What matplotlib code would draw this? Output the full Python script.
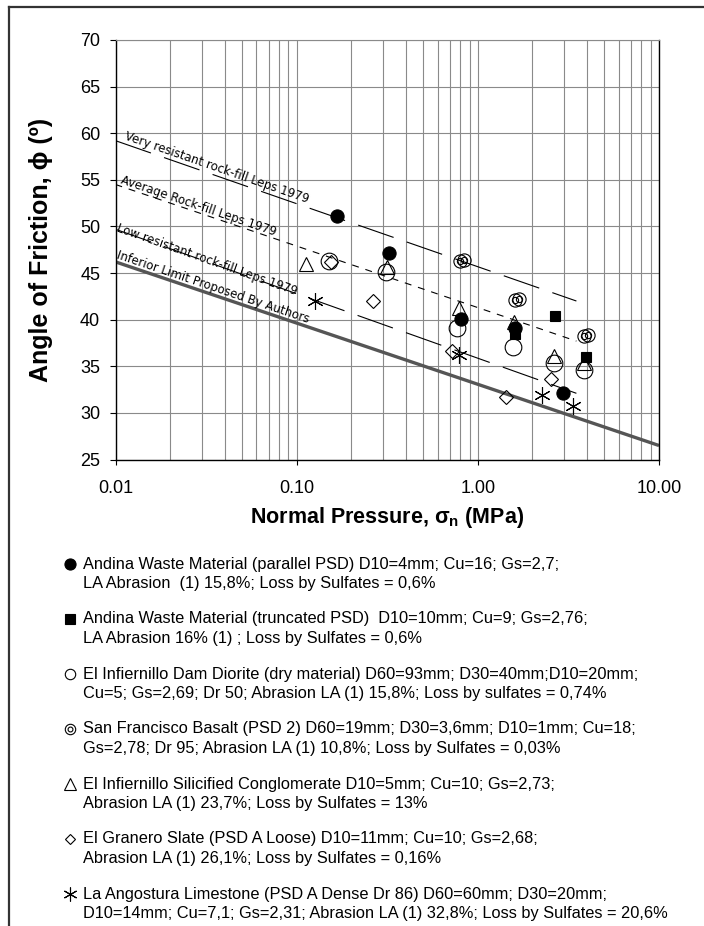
import numpy as np
import matplotlib.pyplot as plt
from matplotlib.lines import Line2D
from matplotlib.ticker import LogLocator, FixedLocator, FixedFormatter, NullFormatter

plt.rcParams['font.family'] = ['Liberation Sans', 'DejaVu Sans']
plt.rcParams['lines.scale_dashes'] = False

# test results: normal pressure (MPa), friction angle (deg)
andina_par_x = [0.166, 0.325, 0.81, 1.60, 2.97]
andina_par_y = [51.1, 47.1, 40.1, 39.1, 32.1]
andina_trunc_x = [2.68, 1.60, 3.97]
andina_trunc_y = [40.4, 38.5, 36.0]
diorite_x = [0.15, 0.31, 0.77, 1.56, 2.62, 3.85]
diorite_y = [46.3, 45.1, 39.1, 37.1, 35.4, 34.6]
basalt_x = [0.80, 0.84, 1.60, 1.68, 3.85, 4.05]
basalt_y = [46.3, 46.4, 42.1, 42.2, 38.3, 38.4]
congl_x = [0.112, 0.314, 0.79, 1.59, 2.62, 3.85]
congl_y = [46.0, 45.7, 41.3, 39.8, 36.1, 35.3]
slate_x = [0.155, 0.265, 0.72, 1.43, 2.53]
slate_y = [46.2, 42.0, 36.6, 31.7, 33.6]
limestone_x = [0.126, 0.79, 2.26, 3.35]
limestone_y = [42.0, 36.2, 31.9, 30.7]

# Leps 1979 bands and the lower limit
leps_x = [0.01, 3.5]
very_y = [59.2, 42.0]
avg_y = [54.5, 37.7]
low_y = [49.7, 32.1]
inferior_x = [0.01, 10]
inferior_y = [46.2, 26.5]

xticks = [0.01, 0.1, 1, 10]
xtick_labels = ['0.01', '0.10', '1.00', '10.00']
yticks = [25, 30, 35, 40, 45, 50, 55, 60, 65, 70]

legend_lines = [
    ("Andina Waste Material (parallel PSD) D10=4mm; Cu=16; Gs=2,7;",
     "LA Abrasion  (1) 15,8%; Loss by Sulfates = 0,6%"),
    ("Andina Waste Material (truncated PSD)  D10=10mm; Cu=9; Gs=2,76;",
     "LA Abrasion 16% (1) ; Loss by Sulfates = 0,6%"),
    ("El Infiernillo Dam Diorite (dry material) D60=93mm; D30=40mm;D10=20mm;",
     "Cu=5; Gs=2,69; Dr 50; Abrasion LA (1) 15,8%; Loss by sulfates = 0,74%"),
    ("San Francisco Basalt (PSD 2) D60=19mm; D30=3,6mm; D10=1mm; Cu=18;",
     "Gs=2,78; Dr 95; Abrasion LA (1) 10,8%; Loss by Sulfates = 0,03%"),
    ("El Infiernillo Silicified Conglomerate D10=5mm; Cu=10; Gs=2,73;",
     "Abrasion LA (1) 23,7%; Loss by Sulfates = 13%"),
    ("El Granero Slate (PSD A Loose) D10=11mm; Cu=10; Gs=2,68;",
     "Abrasion LA (1) 26,1%; Loss by Sulfates = 0,16%"),
    ("La Angostura Limestone (PSD A Dense Dr 86) D60=60mm; D30=20mm;",
     "D10=14mm; Cu=7,1; Gs=2,31; Abrasion LA (1) 32,8%; Loss by Sulfates = 20,6%"),
]

W, H = 704, 926
fig = plt.figure(figsize=(W / 100, H / 100), dpi=100)
ax = fig.add_axes([115.5 / W, 1 - 459.5 / H, 543.5 / W, 419.5 / H])

def px(x, y):
    return x / W, 1 - y / H

ax.set_xscale('log')
ax.set_xlim(0.01, 10)
ax.set_ylim(25, 70)

gridc = '#8a8a8a'
ax.xaxis.set_major_locator(FixedLocator(xticks))
ax.xaxis.set_major_formatter(FixedFormatter(xtick_labels))
ax.xaxis.set_minor_locator(LogLocator(base=10, subs=np.arange(2, 10)))
ax.xaxis.set_minor_formatter(NullFormatter())
ax.set_yticks(yticks)
ax.grid(which='both', axis='x', color=gridc, lw=0.8)
ax.grid(which='major', axis='y', color=gridc, lw=0.8)
ax.set_axisbelow(True)
ax.tick_params(axis='x', which='major', direction='out', length=3.5, width=0.8, pad=11, labelsize=13)
ax.tick_params(axis='x', which='minor', length=0)
ax.tick_params(axis='y', direction='out', length=4, width=0.8, pad=7, labelsize=13)
for s in ['left', 'bottom', 'right']:
    ax.spines[s].set_color('black')
    ax.spines[s].set_linewidth(1.0)
ax.spines['top'].set_color(gridc)
ax.spines['top'].set_linewidth(0.8)

# reference lines
ax.plot(leps_x, very_y, color='black', lw=0.8, dashes=(27, 10))
ax.plot(leps_x, avg_y, color='black', lw=0.8, dashes=(5, 5))
ax.plot(leps_x, low_y, color='black', lw=0.8, dashes=(27, 10))
ax.plot(inferior_x, inferior_y, color='#555555', lw=2.4, solid_capstyle='butt')

def line_angle(xs, ys):
    p = ax.transData.transform(np.column_stack([xs, ys]))
    return np.degrees(np.arctan2(p[1, 1] - p[0, 1], p[1, 0] - p[0, 0]))

lab = dict(family='DejaVu Sans', fontsize=8.5, rotation_mode='anchor', ha='left', va='baseline')
ax.text(0.0112, 59.4, 'Very resistant rock-fill Leps 1979', rotation=line_angle(leps_x, very_y), **lab)
ax.text(0.0106, 54.6, 'Average Rock-fill Leps 1979', rotation=line_angle(leps_x, avg_y), **lab)
ax.text(0.0101, 49.5, 'Low resistant rock-fill Leps 1979', rotation=line_angle(leps_x, low_y), **lab)
ax.text(0.0101, 46.6, 'Inferior Limit Proposed By Authors', rotation=line_angle(inferior_x, inferior_y), **lab)

# test points
mk = dict(linestyle='none', mec='black', mew=0.8)
ax.plot(andina_par_x, andina_par_y, marker='o', ms=9.5, mfc='black', **mk)
ax.plot(andina_trunc_x, andina_trunc_y, marker='s', ms=7.2, mfc='black', **mk)
ax.plot(diorite_x, diorite_y, marker='o', ms=12, mfc='none', **mk)
ax.plot(basalt_x, basalt_y, marker='o', ms=9.5, mfc='none', **mk)
ax.plot(basalt_x, basalt_y, marker='o', ms=4.5, mfc='none', **mk)
ax.plot(congl_x, congl_y, marker='^', ms=10, mfc='none', **mk)
ax.plot(slate_x, slate_y, marker='D', ms=7, mfc='none', **mk)
ax.plot(limestone_x, limestone_y, marker=(6, 2, 0), ms=12, mfc='none', **mk)

ax.set_xlabel('Normal Pressure, σ$_\\mathregular{n}$ (MPa)', fontsize=15.5, fontweight='bold')
ax.xaxis.set_label_coords(0.5, -(517 - 459.5) / 419.5)
ax.xaxis.label.set_va('center')
ax.set_ylabel('Angle of Friction, ϕ (º)', fontsize=18, fontweight='bold')
ax.yaxis.set_label_coords((41 - 115.5) / 543.5, 0.5)
ax.yaxis.label.set_va('center')

# legend below the chart
sym = [dict(marker='o', ms=8, mfc='black'),
       dict(marker='s', ms=6.8, mfc='black'),
       dict(marker='o', ms=7.5, mfc='none'),
       dict(marker='o', ms=7.5, mfc='none'),
       dict(marker='^', ms=8, mfc='none'),
       dict(marker='D', ms=5.6, mfc='none'),
       dict(marker=(6, 2, 0), ms=10, mfc='none')]
for i, (l1, l2) in enumerate(legend_lines):
    y1 = 564 + 55 * i
    fig.text(*px(83, y1), l1, fontsize=11.8, va='center', ha='left')
    fig.text(*px(83, y1 + 19.3), l2, fontsize=11.8, va='center', ha='left')
    fx, fy = px(70, y1)
    fig.add_artist(Line2D([fx], [fy], transform=fig.transFigure, mec='black', mew=0.8, **sym[i]))
    if i == 3:
        fig.add_artist(Line2D([fx], [fy], transform=fig.transFigure, marker='o', ms=3.5,
                              mfc='none', mec='black', mew=0.8))

# outer frame
fig.add_artist(Line2D([9 / W, 1], [1 - 7 / H, 1 - 7 / H], transform=fig.transFigure, color='#333333', lw=1.6))
fig.add_artist(Line2D([9 / W, 9 / W], [0, 1 - 7 / H], transform=fig.transFigure, color='#333333', lw=1.6))

fig.savefig('out.png', dpi=100)
